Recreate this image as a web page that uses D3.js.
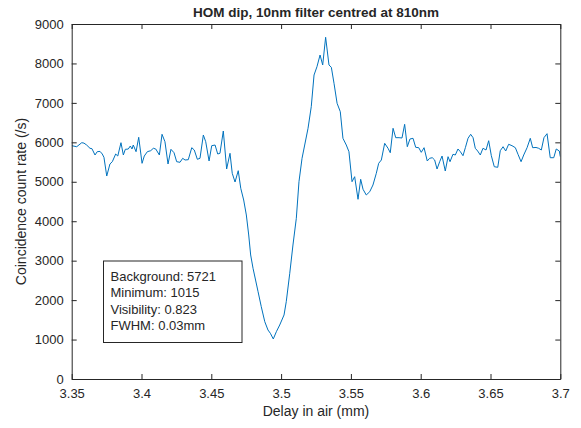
<!DOCTYPE html>
<html>
<head>
<meta charset="utf-8">
<script src="https://cdn.jsdelivr.net/npm/d3@7"></script>
<style>
  body { margin: 0; background: #fff; }
  svg text { font-family: 'Liberation Sans', Arial, Helvetica, sans-serif; fill: #262626; }
</style>
</head>
<body>
<div id="chart-area"></div>
<script>
// delay in air (mm)
const delays = [
  3.3500, 3.3536, 3.3572, 3.3588, 3.3607, 3.3631, 3.3645, 3.3667, 3.3683, 3.3703,
  3.3719, 3.3731, 3.3751, 3.3774, 3.3791, 3.3815, 3.3830, 3.3853, 3.3870, 3.3884,
  3.3905, 3.3920, 3.3932, 3.3941, 3.3961, 3.3980, 3.4004, 3.4020, 3.4042, 3.4066,
  3.4085, 3.4102, 3.4128, 3.4147, 3.4168, 3.4190, 3.4211, 3.4233, 3.4252, 3.4276,
  3.4295, 3.4312, 3.4335, 3.4360, 3.4378, 3.4400, 3.4419, 3.4443, 3.4460, 3.4484,
  3.4503, 3.4527, 3.4546, 3.4562, 3.4586, 3.4610, 3.4634, 3.4650, 3.4670, 3.4693,
  3.4711, 3.4732, 3.4751, 3.4768, 3.4782, 3.4799, 3.4835, 3.4858, 3.4883, 3.4906,
  3.4923, 3.4944, 3.4966, 3.4990, 3.5021, 3.5037, 3.5062, 3.5085, 3.5109, 3.5128,
  3.5150, 3.5169, 3.5193, 3.5216, 3.5236, 3.5257, 3.5279, 3.5298, 3.5319, 3.5343,
  3.5360, 3.5379, 3.5401, 3.5424, 3.5443, 3.5467, 3.5486, 3.5508, 3.5527, 3.5551,
  3.5570, 3.5587, 3.5610, 3.5635, 3.5658, 3.5682, 3.5699, 3.5718, 3.5742, 3.5766,
  3.5782, 3.5802, 3.5821, 3.5845, 3.5866, 3.5885, 3.5904, 3.5923, 3.5945, 3.5964,
  3.5986, 3.6004, 3.6024, 3.6047, 3.6064, 3.6083, 3.6100, 3.6117, 3.6136, 3.6153,
  3.6176, 3.6196, 3.6210, 3.6231, 3.6248, 3.6267, 3.6284, 3.6303, 3.6320, 3.6339,
  3.6358, 3.6375, 3.6391, 3.6408, 3.6427, 3.6446, 3.6468, 3.6487, 3.6506, 3.6527,
  3.6552, 3.6570, 3.6590, 3.6609, 3.6630, 3.6654, 3.6678, 3.6697, 3.6719, 3.6738,
  3.6762, 3.6785, 3.6802, 3.6826, 3.6845, 3.6864, 3.6883, 3.6905, 3.6928, 3.6953,
  3.6971, 3.6993, 3.7000
]

// coincidence count rate (/s)
const rates = [
  5915, 5889, 5991, 5980, 5932, 5849, 5839, 5679, 5763, 5770,
  5704, 5621, 5146, 5451, 5509, 5704, 5653, 5991, 5679, 5823,
  5830, 5907, 5831, 5932, 5763, 6128, 5468, 5653, 5763, 5788,
  5849, 5831, 5679, 6204, 6016, 5451, 5823, 5737, 5509, 5494,
  5595, 5552, 5560, 5864, 5806, 5570, 5595, 6186, 6016, 5527,
  5915, 5932, 5704, 5722, 6287, 5324, 5722, 5215, 4994, 5281,
  4835, 4538, 4158, 3651, 3144, 2806, 2213, 1833, 1453, 1242,
  1159, 1015, 1199, 1369, 1623, 1960, 2680, 3397, 4074, 5002,
  5595, 5932, 6356, 6903, 7707, 7918, 8214, 7961, 8663, 7961,
  7902, 7497, 6990, 6777, 6102, 5932, 5763, 5002, 5129, 4556,
  5063, 4809, 4665, 4748, 4918, 5215, 5468, 5552, 5975, 5849,
  5737, 6356, 6118, 6118, 6110, 6457, 5889, 6084, 6102, 5874,
  5864, 5747, 5864, 5527, 5595, 5610, 5552, 5324, 5509, 5653,
  5273, 5636, 5509, 5696, 5679, 5831, 5763, 5661, 5864, 6102,
  6204, 6118, 5849, 5780, 5679, 5849, 5806, 6041, 5661, 5382,
  5367, 5788, 5889, 5780, 5950, 5915, 5864, 5696, 5509, 5679,
  5864, 6102, 5864, 5870, 5849, 5806, 6118, 6219, 5610, 5610,
  5831, 5780, 5636
]

const xTicks = [3.35, 3.4, 3.45, 3.5, 3.55, 3.6, 3.65, 3.7]
const yTicks = [0, 1000, 2000, 3000, 4000, 5000, 6000, 7000, 8000, 9000]

const titleText = 'HOM dip, 10nm filter centred at 810nm'
const xLabel = 'Delay in air (mm)'
const yLabel = 'Coincidence count rate (/s)'
const statLines = ['Background: 5721', 'Minimum: 1015', 'Visibility: 0.823', 'FWHM: 0.03mm']

const margin = { top: 24, right: 20.7, bottom: 49, left: 71.7 }
const W = 581, H = 428
const width = W - margin.left - margin.right
const height = H - margin.top - margin.bottom

const svg = d3.select('#chart-area')
  .append('svg')
  .attr('width', W)
  .attr('height', H)

const g = svg.append('g')
  .attr('transform', 'translate(' + margin.left + ',' + margin.top + ')')

const x = d3.scaleLinear().domain([3.35, 3.7]).range([0, width])
const y = d3.scaleLinear().domain([0, 9000]).range([height, 0])

const data = delays.map((d, i) => ({ delay: d, rate: rates[i] }))

g.append('clipPath').attr('id', 'clip')
  .append('rect').attr('width', width).attr('height', height)

// the curve
g.append('path')
  .datum(data)
  .attr('clip-path', 'url(#clip)')
  .attr('fill', 'none')
  .attr('stroke', '#0072BD')
  .attr('stroke-width', 1)
  .attr('stroke-linejoin', 'round')
  .attr('d', d3.line().x(d => x(d.delay)).y(d => y(d.rate)))

// axes, matlab style: ticks inward, box on
const tickLen = 5
const fmtX = d => d3.format('')(+d.toFixed(2))

function styleAxis(sel) {
  sel.select('.domain').attr('stroke', '#262626')
  sel.selectAll('.tick line').attr('stroke', '#262626')
  sel.selectAll('.tick text').attr('font-size', '13px').attr('fill', '#262626')
    .attr('font-family', "'Liberation Sans', Arial, sans-serif")
}

g.append('g')
  .attr('transform', 'translate(0,' + height + ')')
  .call(d3.axisBottom(x).tickValues(xTicks).tickFormat(fmtX)
    .tickSizeInner(-tickLen).tickSizeOuter(0).tickPadding(10))
  .call(styleAxis)

g.append('g')
  .call(d3.axisTop(x).tickValues(xTicks).tickFormat('')
    .tickSizeInner(-tickLen).tickSizeOuter(0))
  .call(styleAxis)

g.append('g')
  .call(d3.axisLeft(y).tickValues(yTicks).tickFormat(d3.format('d'))
    .tickSizeInner(-tickLen).tickSizeOuter(0).tickPadding(8))
  .call(styleAxis)

g.append('g')
  .attr('transform', 'translate(' + width + ',0)')
  .call(d3.axisRight(y).tickValues(yTicks).tickFormat('')
    .tickSizeInner(-tickLen).tickSizeOuter(0))
  .call(styleAxis)

// labels
svg.append('text')
  .attr('x', margin.left + width / 2)
  .attr('y', 17)
  .attr('text-anchor', 'middle')
  .attr('font-size', '13.5px')
  .attr('font-weight', 'bold')
  .attr('fill', '#000')
  .text(titleText)

svg.append('text')
  .attr('x', margin.left + width / 2)
  .attr('y', 416)
  .attr('text-anchor', 'middle')
  .attr('font-size', '14px')
  .text(xLabel)

svg.append('text')
  .attr('transform', 'rotate(-90)')
  .attr('x', -(margin.top + height / 2))
  .attr('y', 26)
  .attr('text-anchor', 'middle')
  .attr('font-size', '14px')
  .text(yLabel)

// stats annotation box
const box = svg.append('g').attr('transform', 'translate(103.5,261)')
box.append('rect')
  .attr('width', 138.5)
  .attr('height', 81.5)
  .attr('fill', '#fff')
  .attr('stroke', '#262626')
  .attr('stroke-width', 1)

box.selectAll('text.stat')
  .data(statLines)
  .enter()
  .append('text')
  .attr('class', 'stat')
  .attr('x', 7)
  .attr('y', (d, i) => 19.5 + i * 16.6)
  .attr('font-size', '13px')
  .attr('fill', '#000')
  .text(d => d)
</script>
</body>
</html>
